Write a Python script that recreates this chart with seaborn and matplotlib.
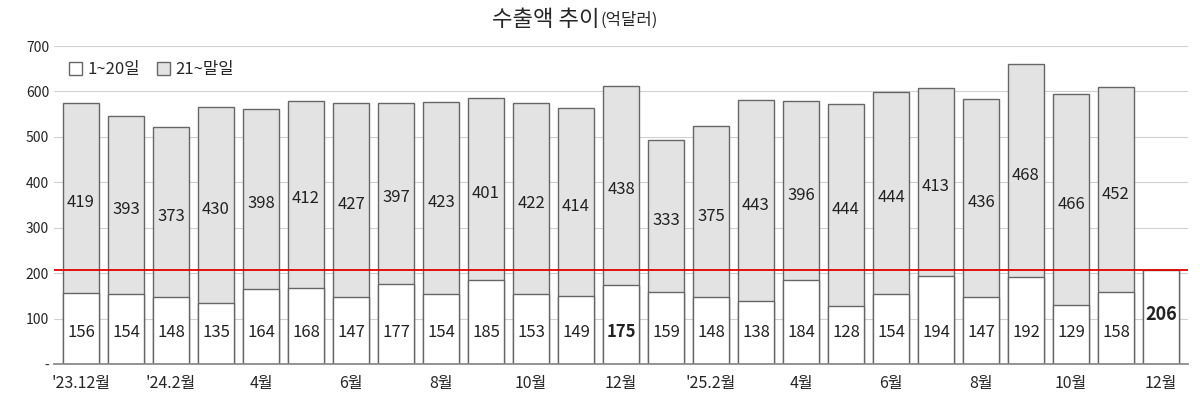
import matplotlib
matplotlib.use("Agg")
import matplotlib.pyplot as plt
import seaborn as sns
import pandas as pd

months = ["'23.12"] + [f"'24.{m}" for m in range(1, 13)] + [f"'25.{m}" for m in range(1, 13)]
first20 = [156,154,148,135,164,168,147,177,154,185,153,149,175,159,148,138,184,128,154,194,147,192,129,158,206]
rest = [419,393,373,430,398,412,427,397,423,401,422,414,438,333,375,443,396,444,444,413,436,468,466,452,0]
tick_labels = ["'23.12월","","'24.2월","","4월","","6월","","8월","","10월","","12월","","'25.2월","","4월","","6월","","8월","","10월","","12월"]
bold_idx = [12, 24]

sns.set_theme(style="white")
plt.rcParams['font.family'] = ['Noto Sans CJK KR', 'DejaVu Sans']

df = pd.DataFrame({"month": months, "a": first20, "b": rest})
df["total"] = df["a"] + df["b"]

fig, ax = plt.subplots(figsize=(12, 4), dpi=100)
sns.barplot(data=df, x="month", y="total", color="#e3e3e3", edgecolor="#666666", linewidth=1, width=0.78, ax=ax, label="21~말일")
sns.barplot(data=df, x="month", y="a", color="white", edgecolor="#666666", linewidth=1, width=0.78, ax=ax, label="1~20일")

for i, (a, b) in enumerate(zip(first20, rest)):
    w = "bold" if i in bold_idx else "medium"
    fs = 13 if i == 24 else 12
    ax.text(i, 70 if i != 24 else 110, str(a), ha="center", va="center", fontsize=fs, fontweight=w, color="#222")
    if b:
        ax.text(i, a + b / 2 - 10, str(b), ha="center", va="center", fontsize=12, fontweight="medium", color="#222")

ax.axhline(206, color="#e00000", lw=1.3, zorder=5)
ax.set_ylim(0, 700)
ax.set_yticks(range(0, 701, 100))
ax.set_yticklabels(["-"] + [str(v) for v in range(100, 701, 100)], fontsize=10)
ax.yaxis.grid(True, color="#d0d0d0", lw=0.8)
ax.set_axisbelow(True)
ax.set_xticks(range(len(months)))
ax.set_xticklabels(tick_labels, fontsize=11.5)
ax.tick_params(axis="x", pad=8, length=0)
ax.tick_params(axis="y", length=0)
ax.set_xlabel("")
ax.set_ylabel("")
ax.set_xlim(-0.6, 24.6)
for s in ["top", "right", "left"]:
    ax.spines[s].set_visible(False)
ax.spines["bottom"].set_color("#888")

h, l = ax.get_legend_handles_labels()
ax.legend(h[::-1], l[::-1], loc="upper left", bbox_to_anchor=(0.0, 1.0), frameon=False, ncol=2,
          fontsize=12, handlelength=0.8, handleheight=0.8, columnspacing=1.0, handletextpad=0.3)

fig.text(0.5, 0.95, "수출액 추이", ha="right", va="center", fontsize=16)
fig.text(0.5, 0.95, "(억달러)", ha="left", va="center", fontsize=12)
fig.subplots_adjust(left=0.045, right=0.99, top=0.885, bottom=0.09)
fig.savefig("out.png")
